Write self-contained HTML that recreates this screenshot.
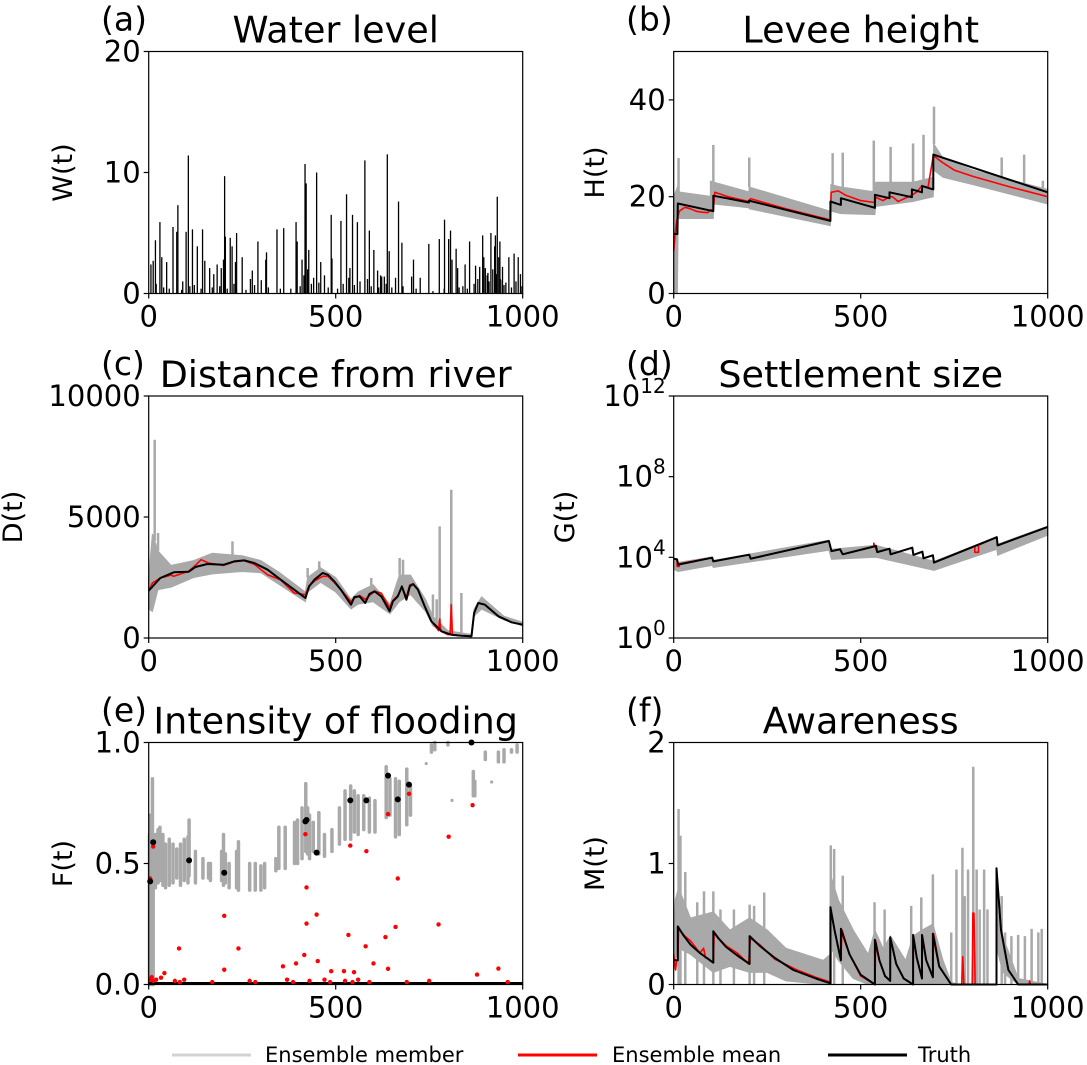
<!DOCTYPE html>
<html><head><meta charset="utf-8"><style>
html,body{margin:0;padding:0;background:#fff;}
svg{display:block;font-family:"DejaVu Sans","Liberation Sans",sans-serif;}
</style></head><body>
<svg id="fig" width="1087" height="1065" viewBox="0 0 1087 1065" xmlns="http://www.w3.org/2000/svg"></svg>
<script>
// ---------- DATA ----------
// (a) water level
const wT=[6,12,18,30,35,48,65,75,78,91,100,106,117,122,130,144,150,163,174,183,194,200,203,205,218,223,232,235,250,272,277,292,301,313,315,343,361,394,397,410,418,421,428,441,449,460,470,488,490,514,529,538,545,558,578,590,602,612,623,630,638,643,668,677,703,708,726,749,777,791,802,807,811,822,826,846,858,874,885,893,896,900,907,915,925,927,932,936,939,946,955,963,977,988,994,
20,40,55,88,110,140,170,190,210,228,260,283,320,352,380,405,415,425,435,455,480,505,520,535,550,565,585,595,615,620,635,650,660,680,715,760,790,830,840,852,870,880,905,910,920,930,940,945,950,970,982,998];
const wV=[2.4,2.7,4.4,5.9,3.0,2.6,5.5,5.1,7.3,1.0,5.1,11.4,5.3,0.7,3.9,5.3,2.7,2.1,1.6,2.4,2.1,2.8,9.7,4.7,4.6,3.9,2.6,5.0,3.0,1.2,1.9,4.3,1.1,2.8,3.4,5.3,5.4,5.9,4.3,2.8,10.7,9.1,3.6,1.3,10.0,2.6,1.5,6.5,2.9,6.0,8.2,2.1,6.5,5.9,11.0,5.2,3.6,1.9,1.4,1.4,11.5,3.5,7.6,4.2,1.4,2.8,1.3,4.1,4.5,6.1,4.5,5.2,2.8,3.7,2.1,2.4,4.3,2.3,2.2,4.8,3.0,2.1,1.7,5.0,3.9,4.8,8.0,3.0,4.3,2.2,0.9,3.0,3.3,3.0,1.6,
0.8,0.5,0.4,0.3,0.6,0.4,0.5,0.6,0.4,0.8,0.3,0.7,0.5,0.4,0.4,0.6,1.5,2.0,0.8,0.9,0.5,0.4,0.8,1.3,0.7,1.0,1.2,0.6,0.5,1.5,0.8,0.5,1.3,0.6,0.4,0.2,0.4,0.5,0.6,0.4,0.8,1.2,1.5,1.0,2.0,1.6,1.2,1.1,0.7,0.5,1.0,0.6];

// (b) levee height
const hTruthT=[0,10,11,106,106,201,201,419,419,447,447,538,538,577,577,637,637,664,664,694,694,1000];
const hTruthV=[12.3,12.3,18.6,17.0,20.2,18.8,19.2,15.0,19.0,18.3,19.7,17.7,20.4,19.7,20.9,19.9,21.5,20.9,22.2,21.5,28.7,20.9];
const hMeanT=[0,4,8,15,30,45,60,75,90,100,106,110,150,201,205,300,419,421,440,460,500,538,540,560,577,585,600,637,650,664,680,694,720,750,800,900,1000];
const hMeanV=[8.8,12.4,15,17,17.8,17.5,17.0,16.8,16.7,17.3,17.3,20.9,19.9,19.0,19.6,17.5,15.2,20.9,21.2,20.3,19.2,18.8,19.9,19.2,20.0,20.0,19.0,20.3,21.0,22.3,21.9,28.5,27.0,25.5,24.2,22.0,20.0];
const hBandT=[0,10,12,106,107,201,202,419,420,447,538,540,640,694,695,720,800,1000];
const hBandUp=[20,22,21,20,23,21,22,17,22.5,22,21,23,23,24,31,28,25.5,21.5];
const hBandLo=[0,0,15.5,15.5,18.5,17.7,17.5,14,17,16.5,16.3,18,19,20,25.5,24,22.5,18.5];
const hSpikeT=[13,100,106,202,425,452,535,580,640,668,696,877,937,987];
const hSpikeV=[28,23.3,30.7,28.1,29,29.1,31.6,30.3,31,32.8,38.6,28.1,28.7,23.3];

// (c) distance from river
const dTruthT=[0,31,67,107,125,157,201,228,255,282,318,353,389,419,429,443,465,479,496,514,541,550,564,579,590,604,622,644,653,666,677,689,698,707,720,738,756,783,809,836,863,870,881,899,935,970,1000];
const dTruthV=[1956,2479,2713,2740,2933,3057,3029,3167,3208,3098,2823,2410,1997,1652,2134,2410,2685,2616,2341,1997,1377,1694,1721,1446,1818,1928,1721,1102,1515,1721,2134,1584,2134,2231,1997,1308,689,275,138,96,69,1033,1446,1377,895,647,551];
const dMeanT=[0,10,31,60,67,107,125,140,160,200,228,255,282,318,353,389,419,429,443,465,479,496,514,541,550,564,579,590,604,622,644,653,666,677,689,698,707,720,738,756,775,778,781,800,806,809,812,836,863,870,881,899,935,970,1000];
const dMeanV=[1928,2272,2479,2600,2550,2760,3000,3236,3100,3000,3150,3200,3050,2616,2400,1859,1790,2150,2350,2550,2550,2300,2000,1500,1650,1750,1600,1750,1930,1850,1250,1550,1750,2100,1700,2200,2231,2000,1300,690,300,785,280,138,150,1377,130,96,69,1000,1450,1380,900,650,551];
const dBandT=[0,10,25,60,120,170,250,300,350,419,425,460,500,541,560,600,645,670,700,740,760,800,862,870,890,950,1000];
const dBandUp=[2500,4300,3600,3000,3200,3500,3400,3200,2700,1900,2500,2900,2500,1600,1900,2200,1400,2600,2600,1600,900,300,150,1200,1700,900,650];
const dBandLo=[1200,1100,2000,2100,2500,2650,2750,2700,2200,1500,1900,2300,1900,1200,1400,1500,1000,1500,1800,1100,500,150,40,900,1200,750,500];
const dSpikeT=[16,25,224,425,456,595,671,680,760,770,778,809,836];
const dSpikeV=[8193,4338,3993,2892,3167,2479,3305,3236,1800,1600,4613,6128,1859];

// (d) settlement size (log10 values)
const gTruthT=[0,9,12,103,106,202,206,415,422,445,452,541,544,577,580,638,641,665,668,693,696,864,866,1000];
const gTruthV=[3.93,3.9,3.64,3.98,3.80,4.13,3.93,4.81,4.31,4.40,4.15,4.56,4.26,4.43,4.15,4.48,4.12,4.28,3.95,4.10,3.74,5.0,4.59,5.51];
const gMeanT=[0,9,9,15,15,103,106,202,206,415,422,445,452,535,535,544,577,580,638,641,665,668,693,696,805,805,815,815,864,866,1000];
const gMeanV=[3.93,3.9,3.55,3.55,3.68,3.98,3.80,4.13,3.93,4.81,4.31,4.40,4.15,4.54,4.70,4.26,4.43,4.15,4.48,4.12,4.28,3.95,4.10,3.74,4.55,4.25,4.25,4.60,5.0,4.59,5.51];
const gBandT=[0,12,103,106,415,422,541,696,864,866,1000];
const gBandUp=[4.0,3.75,4.02,3.85,4.85,4.4,4.6,3.8,5.02,4.65,5.55];
const gBandLo=[3.4,3.3,3.6,3.5,4.35,3.9,4.0,3.35,4.4,4.1,5.1];

// (e) intensity of flooding
const eStreakT=[2,5,10,12,18,25,30,38,45,55,65,75,85,95,105,108,125,145,160,165,195,200,205,215,235,240,270,285,300,310,340,348,365,390,398,410,420,425,430,440,455,470,490,510,525,540,550,560,575,590,605,635,645,660,670,690,700,756,765,800,868,872,900,935,950,970,985];
const eStreakLo=[0,0,0,0,0.40,0.42,0.43,0.41,0.40,0.41,0.42,0.44,0.41,0.43,0.42,0.45,0.42,0.44,0.44,0.43,0.43,0.41,0.42,0.40,0.40,0.39,0.39,0.39,0.39,0.40,0.47,0.48,0.48,0.50,0.50,0.52,0.55,0.54,0.52,0.55,0.54,0.53,0.55,0.58,0.60,0.60,0.63,0.62,0.64,0.63,0.63,0.69,0.70,0.61,0.62,0.66,0.70,0.96,0.97,0.99,0.78,0.78,0.93,0.92,0.92,0.96,0.96];
const eStreakHi=[0.62,0.70,0.85,0.60,0.62,0.64,0.65,0.62,0.58,0.60,0.58,0.56,0.58,0.60,0.61,0.68,0.55,0.52,0.50,0.50,0.55,0.62,0.54,0.50,0.55,0.59,0.50,0.50,0.49,0.50,0.52,0.65,0.65,0.67,0.68,0.73,0.83,0.73,0.70,0.67,0.71,0.62,0.64,0.73,0.80,0.82,0.80,0.78,0.78,0.77,0.76,0.90,0.85,0.85,0.84,0.89,0.82,0.99,1.0,1.0,0.88,0.84,0.96,0.96,0.97,0.97,0.99];
const eGrayDotT=[742,811,917];
const eGrayDotV=[0.913,0.761,0.837];
const eTruthT=[4,12,108,202,419,422,449,539,582,640,666,696,863];
const eTruthV=[0.426,0.588,0.513,0.462,0.674,0.680,0.545,0.761,0.761,0.863,0.765,0.826,1.0];
const eMeanT=[4,12,419,422,422,449,202,81,240,539,582,640,666,696,802,866,775,534,660,633,580,601,640,202,359,394,416,452,488,522,549,935,878,42,33,5,8,12,20,70,83,95,170,270,285,370,386,430,470,485,525,545,560,590,690,750,960];
const eMeanV=[0.438,0.57,0.621,0.401,0.252,0.289,0.284,0.149,0.149,0.574,0.551,0.704,0.438,0.788,0.611,0.741,0.248,0.205,0.238,0.196,0.158,0.087,0.065,0.061,0.075,0.087,0.122,0.097,0.055,0.055,0.051,0.066,0.041,0.047,0.028,0.02,0.03,0.015,0.02,0.015,0.01,0.02,0.01,0.015,0.01,0.02,0.01,0.015,0.02,0.01,0.015,0.01,0.02,0.01,0.01,0.015,0.01];

// (f) awareness
const mTruthT=[0,11,11,25,45,70,106,106,120,140,170,203,203,230,270,320,380,419,419,430,447,447,470,500,538,538,550,565,579,579,595,615,640,640,650,664,664,675,693,693,710,742,863,863,875,895,921,1000];
const mTruthV=[0.2,0.2,0.48,0.41,0.33,0.26,0.18,0.44,0.38,0.31,0.24,0.17,0.40,0.32,0.22,0.12,0.05,0.01,0.64,0.45,0.2,0.46,0.25,0.08,0.0,0.37,0.2,0.07,0.03,0.39,0.17,0.05,0.0,0.41,0.22,0.05,0.41,0.2,0.06,0.42,0.15,0.0,0.0,0.96,0.45,0.12,0.0,0.0];
const mMeanT=[0,5,8,11,13,30,45,70,80,85,90,106,108,140,170,200,205,230,270,330,380,419,420,430,447,450,470,500,538,540,550,565,579,580,595,615,640,641,650,664,665,675,693,695,710,742,770,773,776,798,800,803,806,863,864,875,895,921,950,952,954,1000];
const mMeanV=[0.25,0.12,0.2,0.2,0.46,0.40,0.36,0.26,0.30,0.22,0.22,0.18,0.42,0.32,0.26,0.17,0.38,0.33,0.21,0.12,0.06,0.02,0.6,0.45,0.2,0.45,0.25,0.07,0.0,0.36,0.2,0.07,0.03,0.38,0.17,0.05,0.0,0.4,0.22,0.05,0.4,0.2,0.06,0.42,0.15,0.0,0.0,0.23,0.0,0.0,0.59,0.59,0.0,0.0,0.9,0.45,0.12,0.0,0.0,0.03,0.0,0.0];
const mBandT=[0,4,13,45,106,150,203,250,300,400,419,420,440,480,520,538,560,580,620,640,664,693,720,742,760,863,864,880,921,1000];
const mBandUp=[0.43,0.7,0.8,0.55,0.6,0.45,0.55,0.45,0.3,0.2,0.25,0.9,0.7,0.45,0.25,0.45,0.3,0.4,0.2,0.4,0.45,0.5,0.2,0.02,0,0,0.9,0.4,0.05,0];
const mBandLo=[0.12,0.2,0.3,0.25,0.1,0.15,0.1,0.1,0.03,0,0,0.3,0.2,0.05,0,0,0,0,0,0,0,0,0,0,0,0,0.3,0.1,0,0];
const mSpikeT=[13,18,31,63,81,106,125,161,203,215,242,420,429,452,537,564,635,662,693,742,756,772,778,787,801,810,818,830,839,877,886,903,921,939,957,975,984];
const mSpikeV=[1.45,1.23,0.93,0.68,0.77,0.77,0.62,0.62,0.66,0.65,0.76,1.15,1.12,0.90,0.68,0.62,0.65,0.72,0.91,0.43,0.95,1.13,0.73,0.95,1.80,0.95,0.62,0.95,0.62,0.73,0.43,0.40,0.41,0.40,0.46,0.43,0.46];

// tick labels
const xTickVals=[0,500,1000];
const xTickLabels=["0","500","1000"];

// ---------- DRAWING ----------
const NS="http://www.w3.org/2000/svg";
const svg=document.getElementById('fig');
function el(tag,attrs,parent){const e=document.createElementNS(NS,tag);for(const k in attrs)e.setAttribute(k,attrs[k]);(parent||svg).appendChild(e);return e;}
const GRAY="#a9a9a9";
function makePanel(name,x0,y0,w,h,ymin,ymax){
  const g=el('g',{});
  
  
  const sx=t=>x0+(t/1000)*w;
  const sy=v=>y0+h-(v-ymin)/(ymax-ymin)*h;
  return {g,sx,sy,x0,y0,w,h};
}
function line(P,ts,vs,color,width,name){
  let d='';for(let i=0;i<ts.length;i++)d+=(i?'L':'M')+P.sx(ts[i]).toFixed(1)+' '+P.sy(vs[i]).toFixed(1);
  const p=el('path',{d:d,fill:'none',stroke:color,'stroke-width':width,'stroke-linejoin':'round'},P.g);
  
  
}
function band(P,ts,up,lo,name){
  let d='';for(let i=0;i<ts.length;i++)d+=(i?'L':'M')+P.sx(ts[i]).toFixed(1)+' '+P.sy(up[i]).toFixed(1);
  for(let i=ts.length-1;i>=0;i--)d+='L'+P.sx(ts[i]).toFixed(1)+' '+P.sy(lo[i]).toFixed(1);
  const p=el('path',{d:d+'Z',fill:GRAY,stroke:GRAY,'stroke-width':1},P.g);
  
  
}
function spikes(P,ts,vs,base,name){
  for(let i=0;i<ts.length;i++){
    const r=el('line',{x1:P.sx(ts[i]),x2:P.sx(ts[i]),y1:P.sy(base(ts[i])),y2:P.sy(vs[i]),stroke:GRAY,'stroke-width':2.5},P.g);
    
    
  }
}
function interp(ts,vs){return t=>{for(let i=1;i<ts.length;i++){if(t<=ts[i]){const f=(t-ts[i-1])/((ts[i]-ts[i-1])||1);return vs[i-1]+f*(vs[i]-vs[i-1]);}}return vs[vs.length-1];};}
function frame(P,yTicks,yLabels,ylab,ylabX,title,letter,letterX,sup){
  const b=el('rect',{x:P.x0,y:P.y0,width:P.w,height:P.h,fill:'none',stroke:'#000','stroke-width':1.2},P.g);
  
  
  for(let i=0;i<xTickVals.length;i++){
    const x=P.sx(xTickVals[i]);
    el('line',{x1:x,x2:x,y1:P.y0+P.h,y2:P.y0+P.h+5,stroke:'#000','stroke-width':1.2},P.g);
    const t=el('text',{x:x,y:P.y0+P.h+33,'text-anchor':'middle','font-size':29},P.g);
    t.textContent=xTickLabels[i];
    
    
  }
  for(let i=0;i<yTicks.length;i++){
    const y=P.sy(yTicks[i]);
    el('line',{x1:P.x0-5,x2:P.x0,y1:y,y2:y,stroke:'#000','stroke-width':1.2},P.g);
    const t=el('text',{x:P.x0-8,y:y+10,'text-anchor':'end','font-size':29},P.g);
    if(sup){t.textContent='10';const s=el('tspan',{dy:-13,'font-size':20},t);s.textContent=yLabels[i];}
    else t.textContent=yLabels[i];
    
    
  }
  const cy=P.y0+P.h/2;
  const yl=el('text',{x:ylabX,y:cy,'text-anchor':'middle','font-size':27,transform:`rotate(-90 ${ylabX} ${cy})`},P.g);
  yl.textContent=ylab;
  
  
  const tt=el('text',{x:P.x0+P.w/2,y:P.y0-9,'text-anchor':'middle','font-size':36.5},P.g);
  tt.textContent=title;
  
  
  const lt=el('text',{x:letterX,y:P.y0-21,'font-size':33},P.g);
  lt.textContent=letter;
  
  
}
const LX=148.7, RX=673.7, PW=374, PH=242;
const R1=51.5, R2=396, R3=742.5;

// (a)
const A=makePanel('panel-water-level',LX,R1,PW,PH,0,20);
for(let i=0;i<wT.length;i++){
  const b=el('line',{x1:A.sx(wT[i]),x2:A.sx(wT[i]),y1:A.sy(0),y2:A.sy(wV[i]),stroke:'#000','stroke-width':1.3},A.g);
  
  
}
frame(A,[0,10,20],["0","10","20"],"W(t)",72,"Water level","(a)",101);

// (b)
const B=makePanel('panel-levee-height',RX,R1,PW,PH,0,50);
band(B,hBandT,hBandUp,hBandLo,'ensemble-band');
spikes(B,hSpikeT,hSpikeV,interp(hBandT,hBandUp),'ensemble-spike');
line(B,hMeanT,hMeanV,'#ff0000',1.6,'ensemble-mean-line');
line(B,hTruthT,hTruthV,'#000',2,'truth-line');
frame(B,[0,20,40],["0","20","40"],"H(t)",604,"Levee height","(b)",626);

// (c)
const C=makePanel('panel-distance',LX,R2,PW,PH,0,10000);
band(C,dBandT,dBandUp,dBandLo,'ensemble-band');
spikes(C,dSpikeT,dSpikeV,interp(dBandT,dBandUp),'ensemble-spike');
line(C,dMeanT,dMeanV,'#ff0000',1.6,'ensemble-mean-line');
line(C,dTruthT,dTruthV,'#000',2,'truth-line');
frame(C,[0,5000,10000],["0","5000","10000"],"D(t)",22,"Distance from river","(c)",101);

// (d)
const D=makePanel('panel-settlement-size',RX,R2,PW,PH,0,12);
band(D,gBandT,gBandUp,gBandLo,'ensemble-band');
line(D,gMeanT,gMeanV,'#ff0000',1.6,'ensemble-mean-line');
line(D,gTruthT,gTruthV,'#000',2,'truth-line');
frame(D,[0,4,8,12],["0","4","8","12"],"G(t)",574,"Settlement size","(d)",626,true);

// (e)
const E=makePanel('panel-flood-intensity',LX,R3,PW,PH,0,1);
for(let i=0;i<eStreakT.length;i++){
  const s=el('line',{x1:E.sx(eStreakT[i]),x2:E.sx(eStreakT[i]),y1:E.sy(eStreakLo[i]),y2:E.sy(eStreakHi[i]),stroke:GRAY,'stroke-width':3.5,'stroke-linecap':'round'},E.g);
  
  
}
for(let i=0;i<eGrayDotT.length;i++){
  const c=el('circle',{cx:E.sx(eGrayDotT[i]),cy:E.sy(eGrayDotV[i]),r:1.6,fill:GRAY},E.g);
  
  
}
const zl=el('line',{x1:E.sx(0),x2:E.sx(1000),y1:E.sy(0)-1,y2:E.sy(0)-1,stroke:'#000','stroke-width':3},E.g);


for(let i=0;i<eMeanT.length;i++){
  const c=el('circle',{cx:E.sx(eMeanT[i]),cy:E.sy(eMeanV[i]),r:2.2,fill:'#ff0000'},E.g);
  
  
}
for(let i=0;i<eTruthT.length;i++){
  const c=el('circle',{cx:E.sx(eTruthT[i]),cy:E.sy(eTruthV[i]),r:3,fill:'#000'},E.g);
  
  
}
frame(E,[0,0.5,1],["0.0","0.5","1.0"],"F(t)",72,"Intensity of flooding","(e)",101);

// (f)
const F=makePanel('panel-awareness',RX,R3,PW,PH,0,2);
band(F,mBandT,mBandUp,mBandLo,'ensemble-band');
spikes(F,mSpikeT,mSpikeV,()=>0,'ensemble-spike');
line(F,mMeanT,mMeanV,'#ff0000',1.6,'ensemble-mean-line');
line(F,mTruthT,mTruthV,'#000',2,'truth-line');
frame(F,[0,1,2],["0","1","2"],"M(t)",604,"Awareness","(f)",626);

// legend
const L=el('g',{});


const items=[["Ensemble member","#d3d3d3",172,265],["Ensemble mean","#ff0000",518,612],["Truth","#000",828,918]];
for(const it of items){
  const ln=el('line',{x1:it[2],x2:it[2]+79,y1:1055,y2:1055,stroke:it[1],'stroke-width':3},L);
  
  
  const t=el('text',{x:it[3],y:1062,'font-size':21},L);
  t.textContent=it[0];
  
  
}
</script>
</body></html>
